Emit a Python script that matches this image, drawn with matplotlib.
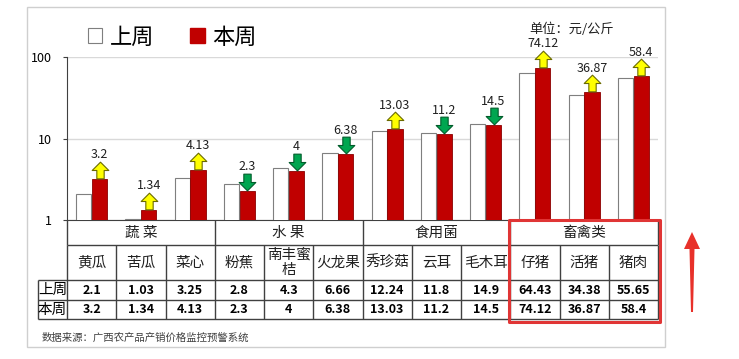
import matplotlib
matplotlib.use('Agg')
import matplotlib.pyplot as plt
import numpy as np
from matplotlib.path import Path
from matplotlib.patches import Patch, Rectangle, Polygon
from matplotlib.transforms import offset_copy

plt.rcParams['font.family'] = ['Noto Sans CJK SC', 'DejaVu Sans']

# 数据
groups = ['蔬 菜', '水 果', '食用菌', '畜禽类']
group_sizes = [3, 3, 3, 3]
items = ['黄瓜', '苦瓜', '菜心', '粉蕉', '南丰蜜\n桔', '火龙果',
         '秀珍菇', '云耳', '毛木耳', '仔猪', '活猪', '猪肉']
last_week = [2.1, 1.03, 3.25, 2.8, 4.3, 6.66, 12.24, 11.8, 14.9, 64.43, 34.38, 55.65]
this_week = [3.2, 1.34, 4.13, 2.3, 4, 6.38, 13.03, 11.2, 14.5, 74.12, 36.87, 58.4]
row_names = ['上周', '本周']

W, H = 739, 359
fig = plt.figure(figsize=(W / 100, H / 100), dpi=100)


def px_axes(l, t, r, b, **kw):
    return fig.add_axes([l / W, 1 - b / H, (r - l) / W, (b - t) / H], **kw)


ax = px_axes(67, 57, 658, 220)
tab = px_axes(67, 220, 658, 320)
deco = fig.add_axes([0, 0, 1, 1], zorder=10)
deco.set_xlim(0, W)
deco.set_ylim(H, 0)
deco.axis('off')
deco.patch.set_alpha(0)

x = np.arange(len(items))
bw = 0.31
ax.set_yscale('log')
ax.bar(x - 0.16, last_week, bw, color='white', edgecolor='#7F7F7F', linewidth=0.8, zorder=3)
ax.bar(x + 0.16, this_week, bw, color='#C00000', edgecolor='#8B0000', linewidth=0.6, zorder=3)
ax.set_xlim(-0.5, len(items) - 0.5)
ax.set_ylim(1, 100)
ax.set_yticks([1, 10, 100])
ax.set_yticklabels(['1', '10', '100'], fontsize=9)
ax.minorticks_off()
ax.tick_params(axis='y', direction='out', length=3, color='#404040', pad=8)
ax.set_xticks([])
ax.grid(axis='y', color='#D9D9D9', linewidth=1, zorder=0)
for s in ['top', 'right']:
    ax.spines[s].set_visible(False)
ax.spines['left'].set_color('#404040')
ax.spines['bottom'].set_color('#404040')

# 涨跌箭头
up = Path([(-0.22, -0.5), (0.22, -0.5), (0.22, 0), (0.5, 0), (0, 0.5), (-0.5, 0),
           (-0.22, 0), (-0.22, -0.5)],
          [Path.MOVETO] + [Path.LINETO] * 6 + [Path.CLOSEPOLY])
down = Path(up.vertices * np.array([1, -1]), up.codes)
arrow_tr = offset_copy(ax.transData, fig=fig, y=9, units='dots')
label_tr = offset_copy(ax.transData, fig=fig, y=24, units='dots')
for i, (a, b) in enumerate(zip(last_week, this_week)):
    if b >= a:
        mk, fc, ec = up, '#FFFF00', '#6B6B00'
    else:
        mk, fc, ec = down, '#00A650', '#005C2A'
    ax.plot([i + 0.16], [b], marker=mk, ms=12, mfc=fc, mec=ec, mew=0.8,
            linestyle='none', transform=arrow_tr, clip_on=False, zorder=4)
    ax.text(i + 0.16, b, f'{b:g}', transform=label_tr, ha='center', va='center',
            fontsize=9, color='#202020', clip_on=False)

# 表格
lc = '#404040'
n = len(items)
rl = 0.59
tab.set_xlim(-0.5, n - 0.5)
tab.set_ylim(100, 0)
tab.axis('off')
rows_y = [0, 25, 60, 80, 99]
tab.hlines(rows_y[1], -0.5, n - 0.5, color=lc, lw=1)
for yy in rows_y[2:]:
    tab.hlines(yy, -0.5 - rl, n - 0.5, color=lc, lw=1, clip_on=False)
tab.vlines(-0.5 - rl, rows_y[2], rows_y[4], color=lc, lw=1, clip_on=False)
for b in np.arange(-0.5, n, 1.0):
    tab.vlines(b, rows_y[1], rows_y[4], color=lc, lw=1, clip_on=False)
start = 0
for g, sz in zip(groups, group_sizes):
    tab.vlines(start - 0.5, 0, rows_y[1], color=lc, lw=1, clip_on=False)
    tab.text(start + sz / 2 - 0.5, 12.5, g, ha='center', va='center', fontsize=10.5, color='#202020')
    start += sz
tab.vlines(n - 0.5, 0, rows_y[1], color=lc, lw=1, clip_on=False)
for i, name in enumerate(items):
    tab.text(i, 42.5, name, ha='center', va='center', fontsize=10.5, color='#202020',
             linespacing=1.15)
    tab.text(i, 70, f'{last_week[i]:g}', ha='center', va='center', fontsize=9, fontweight='bold')
    tab.text(i, 89.5, f'{this_week[i]:g}', ha='center', va='center', fontsize=9, fontweight='bold')
for yy, rn in zip([70, 89.5], row_names):
    tab.text(-0.5 - rl / 2, yy, rn, ha='center', va='center', fontsize=10.5, clip_on=False)

# 红框（畜禽类）
x0 = ax.transData.transform((n - group_sizes[-1] - 0.5, 1))[0]
x1 = ax.transData.transform((n - 0.5, 1))[0]
deco.add_patch(Rectangle((x0 - 1, 220), x1 - x0 + 3, 102, fill=False, ec='#E03535',
                         lw=2.2, joinstyle='round'))

# 边框、红色箭头、文字
deco.add_patch(Rectangle((27, 7), 638, 340, fill=False, ec='#CFCFCF', lw=1))
deco.add_patch(Polygon([(692, 232), (700, 249), (694.5, 249), (693, 312), (691, 312),
                        (689.5, 249), (684, 249)], closed=True, fc='#E8312A', ec='none'))
deco.text(42, 338, '数据来源：广西农产品产销价格监控预警系统', fontsize=7.5, color='#404040',
          ha='left', va='center')
deco.text(572, 29, '单位：元/公斤', fontsize=9.5, color='#202020', ha='center', va='center')

fig.legend(handles=[Patch(fc='white', ec='#7F7F7F', lw=0.8), Patch(fc='#C00000', ec='#C00000')],
           labels=['上周', '本周'], loc='center left', bbox_to_anchor=(88 / W, 1 - 37 / H),
           ncol=2, frameon=False, fontsize=16, handlelength=0.65, handleheight=0.65,
           handletextpad=0.35, columnspacing=1.6, borderpad=0, borderaxespad=0)

fig.savefig('out.png', dpi=100)
